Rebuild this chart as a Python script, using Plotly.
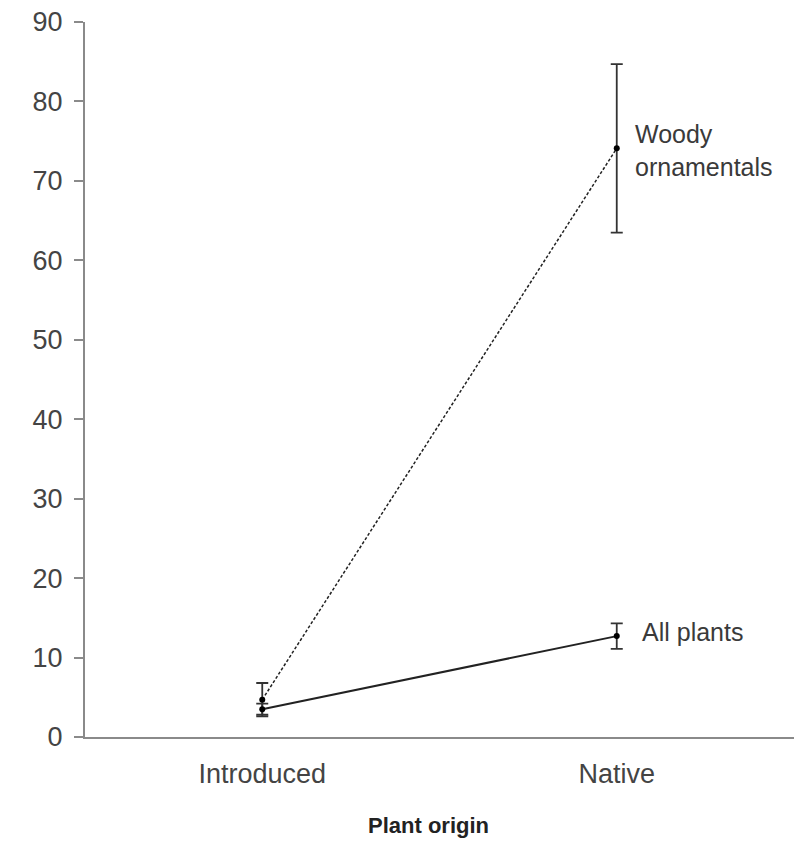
import plotly.graph_objects as go

origins = ["Introduced", "Native"]
all_plants = [3.5, 12.7]
all_plants_err = [0.7, 1.6]
woody = [4.7, 74.1]
woody_err = [2.1, 10.6]
y_ticks = [0, 10, 20, 30, 40, 50, 60, 70, 80, 90]

x_pos = [0, 1]
FONT = "Liberation Sans, Arial, sans-serif"

fig = go.Figure()
fig.add_trace(go.Scatter(
    x=x_pos, y=woody, mode="lines+markers", name="Woody ornamentals",
    line=dict(color="#222222", width=1.5, dash="3px,2px"),
    marker=dict(color="black", size=6),
    error_y=dict(type="data", array=woody_err, color="#333333", thickness=1.8, width=6),
    cliponaxis=False,
))
fig.add_trace(go.Scatter(
    x=x_pos, y=all_plants, mode="lines+markers", name="All plants",
    line=dict(color="#222222", width=2),
    marker=dict(color="black", size=6),
    error_y=dict(type="data", array=all_plants_err, color="#333333", thickness=1.8, width=6),
    cliponaxis=False,
))

fig.add_annotation(x=1, y=woody[1], xref="x", yref="y", text="Woody<br>ornamentals",
                   showarrow=False, xanchor="left", xshift=16, yshift=-2, align="left",
                   font=dict(family=FONT, size=25, color="#3a3a3a"))
fig.add_annotation(x=1, y=all_plants[1], xref="x", yref="y", text="All plants",
                   showarrow=False, xanchor="left", xshift=23, yshift=4, align="left",
                   font=dict(family=FONT, size=25, color="#3a3a3a"))

# axis title placed as an annotation so it can sit slightly left of the plot centre
fig.add_annotation(x=428, y=0, xref="paper", yref="paper", text="<b>Plant origin</b>",
                   showarrow=False, xanchor="center", yanchor="middle",
                   font=dict(family=FONT, size=22, color="#222222"))

fig.update_layout(
    width=794, height=841,
    margin=dict(l=85, r=0, t=22, b=104),
    plot_bgcolor="white", paper_bgcolor="white",
    showlegend=False,
    font=dict(family=FONT, size=27, color="#444444"),
    xaxis=dict(
        range=[-0.5, 1.5], tickvals=x_pos, ticktext=origins,
        showgrid=False, zeroline=False, showline=True,
        linecolor="#8a8a8a", linewidth=2, ticks="",
        ticklabelstandoff=12,
        tickfont=dict(family=FONT, size=27, color="#444444"),
    ),
    yaxis=dict(
        range=[0, 90], tickvals=y_ticks,
        showgrid=False, zeroline=False, showline=True,
        linecolor="#8a8a8a", linewidth=2,
        ticks="outside", ticklen=9, tickcolor="#8a8a8a", tickwidth=2,
        ticklabelstandoff=6,
        tickfont=dict(family=FONT, size=27, color="#444444"),
    ),
)

# convert the title's pixel position into paper coordinates
plot_w = 794 - 85 - 0
plot_h = 841 - 22 - 104
fig.layout.annotations[-1].x = (428 - 85) / plot_w
fig.layout.annotations[-1].y = -(825 - (841 - 104)) / plot_h

fig.write_html("out.html")
